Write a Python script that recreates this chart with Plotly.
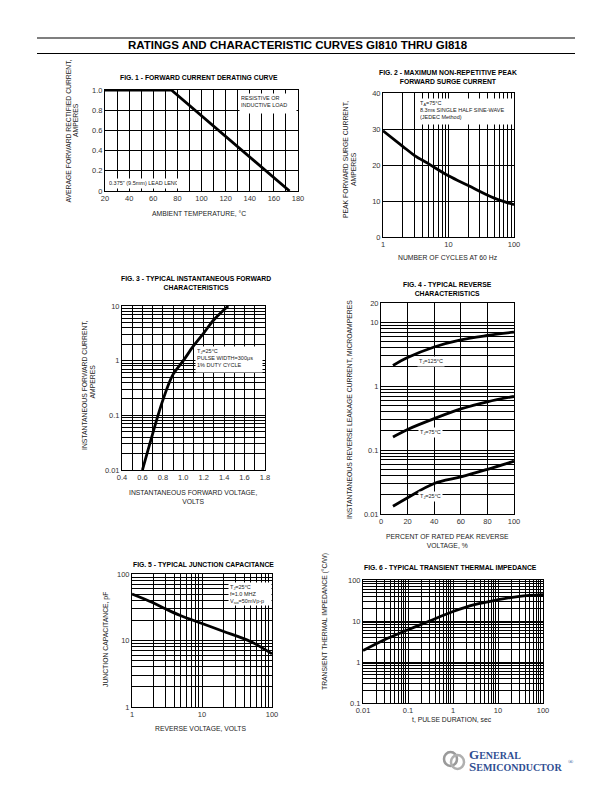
import plotly.graph_objects as go
import math

W, H = 612, 792

# ---------------- data ----------------
fig1_temp = [20, 75, 173]
fig1_current = [1.0, 1.0, 0.0]

fig2_cycles = [1, 2, 3, 5, 10, 20, 50, 100]
fig2_current = [29.5, 25.2, 22.7, 20.3, 17, 14.3, 10.8, 9]

fig3_volts = [0.6, 0.7, 0.8, 0.9, 1.0, 1.1, 1.2, 1.3, 1.44]
fig3_amps = [0.01, 0.046, 0.19, 0.56, 1.0, 1.86, 3.2, 5.6, 10]

fig4_pct = [9, 20, 40, 60, 80, 100]
fig4_125 = [2.1, 2.8, 4.1, 5.3, 6.2, 7.0]
fig4_75 = [0.16, 0.21, 0.31, 0.44, 0.57, 0.69]
fig4_25 = [0.0132, 0.018, 0.030, 0.038, 0.050, 0.067]

fig5_volts = [1, 2, 3, 5, 10, 20, 50, 100]
fig5_pf = [50, 37, 30, 23.5, 18, 13.8, 9.6, 6.3]

fig6_t = [0.01, 0.03, 0.1, 0.3, 1, 3, 10, 30, 100]
fig6_z = [1.9, 3.5, 6.1, 10, 17, 25, 33, 40, 44]

# tick values / labels
fig1_xticks = list(range(20, 181, 10))
fig1_xlabels = [str(v) if v % 20 == 0 else "" for v in fig1_xticks]
fig1_yticks = [0, 0.2, 0.4, 0.6, 0.8, 1.0]
fig1_ylabels = ["0", "0.2", "0.4", "0.6", "0.8", "1.0"]

fig2_yticks = [0, 10, 20, 30, 40]
fig2_ylabels = ["0", "10", "20", "30", "40"]

fig3_xticks = [round(0.4 + 0.1 * i, 1) for i in range(15)]
fig3_xlabels = [f"{v:.1f}" if round(v * 10) % 2 == 0 else "" for v in fig3_xticks]

fig4_xticks = [0, 20, 40, 60, 80, 100]
fig4_xlabels = ["0", "20", "40", "60", "80", "100"]


def log_ticks(lo_exp, hi_exp, labels):
    vals, txt = [], []
    for e in range(lo_exp, hi_exp):
        for m in range(1, 10):
            v = m * 10 ** e
            vals.append(v)
            txt.append(labels.get(v, ""))
    v = 10 ** hi_exp
    vals.append(v)
    txt.append(labels.get(v, ""))
    return vals, txt


FONT = "Liberation Sans, Arial, sans-serif"
TICK_FONT = dict(family=FONT, size=7.5, color="#333")


def dom_x(a, b):
    return [a / W, b / W]


def dom_y(top, bottom):
    return [1 - bottom / H, 1 - top / H]


def axis(domain, rng, anchor, typ="linear", tickvals=None, ticktext=None):
    d = dict(domain=domain, range=rng, type=typ, anchor=anchor, automargin=False,
             showgrid=True, gridcolor="black", gridwidth=1,
             showline=True, linecolor="black", linewidth=1, mirror=True,
             zeroline=False, ticks="", tickfont=TICK_FONT,
             fixedrange=True)
    if tickvals is not None:
        d.update(tickmode="array", tickvals=tickvals, ticktext=ticktext)
    return d


fig = go.Figure()
line = dict(color="black", width=2.8)

fig.add_trace(go.Scatter(x=fig1_temp, y=fig1_current, mode="lines", line=line, xaxis="x", yaxis="y"))
fig.add_trace(go.Scatter(x=fig2_cycles, y=fig2_current, mode="lines", line=dict(line, shape="spline"), xaxis="x2", yaxis="y2"))
fig.add_trace(go.Scatter(x=fig3_volts, y=fig3_amps, mode="lines", line=dict(line, shape="spline"), xaxis="x3", yaxis="y3"))
for ys in (fig4_125, fig4_75, fig4_25):
    fig.add_trace(go.Scatter(x=fig4_pct, y=ys, mode="lines", line=dict(line, shape="spline"), xaxis="x4", yaxis="y4"))
fig.add_trace(go.Scatter(x=fig5_volts, y=fig5_pf, mode="lines", line=dict(line, shape="spline"), xaxis="x5", yaxis="y5"))
fig.add_trace(go.Scatter(x=fig6_t, y=fig6_z, mode="lines", line=dict(line, shape="spline"), xaxis="x6", yaxis="y6"))

f2x_v, f2x_t = log_ticks(0, 2, {1: "1", 10: "10", 100: "100"})
f3y_v, f3y_t = log_ticks(-2, 1, {0.01: "0.01", 0.1: "0.1", 1: "1", 10: "10"})
f4y_v, f4y_t = log_ticks(-2, 1, {0.01: "0.01", 0.1: "0.1", 1: "1", 10: "10"})
f4y_v.append(20); f4y_t.append("20")
f5_v, f5_t = log_ticks(0, 2, {1: "1", 10: "10", 100: "100"})
f6x_v, f6x_t = log_ticks(-2, 2, {0.01: "0.01", 0.1: "0.1", 1: "1", 10: "10", 100: "100"})
f6y_v, f6y_t = log_ticks(-1, 2, {0.1: "0.1", 1: "1", 10: "10", 100: "100"})

fig.update_layout(
    width=W, height=H, autosize=False, margin=dict(l=0, r=0, t=0, b=0, pad=0),
    paper_bgcolor="white", plot_bgcolor="white", showlegend=False,
    xaxis=axis(dom_x(105, 298), [20, 180], "y", tickvals=fig1_xticks, ticktext=fig1_xlabels),
    yaxis=axis(dom_y(90, 191), [0, 1.0], "x", tickvals=fig1_yticks, ticktext=fig1_ylabels),
    xaxis2=axis(dom_x(383, 514), [0, 2], "y2", "log", f2x_v, f2x_t),
    yaxis2=axis(dom_y(93, 237), [0, 40], "x2", tickvals=fig2_yticks, ticktext=fig2_ylabels),
    xaxis3=axis(dom_x(122, 265), [0.4, 1.8], "y3", tickvals=fig3_xticks, ticktext=fig3_xlabels),
    yaxis3=axis(dom_y(306, 470), [-2, 1], "x3", "log", f3y_v, f3y_t),
    xaxis4=axis(dom_x(381, 514), [0, 100], "y4", tickvals=fig4_xticks, ticktext=fig4_xlabels),
    yaxis4=axis(dom_y(303, 514), [-2, math.log10(20)], "x4", "log", f4y_v, f4y_t),
    xaxis5=axis(dom_x(132, 272), [0, 2], "y5", "log", f5_v, f5_t),
    yaxis5=axis(dom_y(574, 707), [0, 2], "x5", "log", f5_v, f5_t),
    xaxis6=axis(dom_x(363, 543), [-2, 2], "y6", "log", f6x_v, f6x_t),
    yaxis6=axis(dom_y(580, 703), [-1, 2], "x6", "log", f6y_v, f6y_t),
)

anns = []


def ann(text, x, y, size, bold=False, angle=0, xa="center", ya="middle", color="#222", **kw):
    if bold:
        text = "<b>" + text + "</b>"
    d = dict(text=text, x=x / W, y=1 - y / H, xref="paper", yref="paper", showarrow=False,
             font=dict(family=FONT, size=size, color=color), textangle=angle,
             xanchor=xa, yanchor=ya)
    d.update(kw)
    anns.append(d)


# main title
ann("RATINGS AND CHARACTERISTIC CURVES GI810 THRU GI818", 298, 45.5, 11.5, bold=True, color="black")

# figure titles
TS = 6.8
ann("FIG. 1 - FORWARD CURRENT DERATING CURVE", 199, 77.5, TS, bold=True, color="black")
ann("FIG. 2 - MAXIMUM NON-REPETITIVE PEAK<br>FORWARD SURGE CURRENT", 448, 77, TS, bold=True, color="black")
ann("FIG. 3 - TYPICAL INSTANTANEOUS FORWARD<br>CHARACTERISTICS", 196, 283, TS, bold=True, color="black")
ann("FIG. 4 - TYPICAL REVERSE<br>CHARACTERISTICS", 447, 289, TS, bold=True, color="black")
ann("FIG. 5 - TYPICAL JUNCTION CAPACITANCE", 203, 564, TS, bold=True, color="black")
ann("FIG. 6 - TYPICAL TRANSIENT THERMAL IMPEDANCE", 450, 567, TS, bold=True, color="black")

# axis titles
AS = 6.8
ann("AMBIENT TEMPERATURE, °C", 199, 213, AS)
ann("AVERAGE FORWARD RECTIFIED CURRENT,", 67.5, 131, AS, angle=-90)
ann("AMPERES", 76, 120, AS, angle=-90)
ann("NUMBER OF CYCLES AT 60 Hz", 448, 258, AS)
ann("PEAK FORWARD SURGE CURRENT,", 346, 160, AS, angle=-90)
ann("AMPERES", 354, 169, AS, angle=-90)
ann("INSTANTANEOUS FORWARD VOLTAGE,<br>VOLTS", 193, 496.5, AS)
ann("INSTANTANEOUS FORWARD CURRENT,", 84, 385, AS, angle=-90)
ann("AMPERES", 92.5, 382, AS, angle=-90)
ann("PERCENT OF RATED PEAK REVERSE<br>VOLTAGE, %", 448, 540.5, AS)
ann("INSTANTANEOUS REVERSE LEAKAGE CURRENT, MICROAMPERES", 350, 410, AS, angle=-90)
ann("REVERSE VOLTAGE, VOLTS", 200, 728, AS)
ann("JUNCTION CAPACITANCE, pF", 106, 640, AS, angle=-90)
ann("t, PULSE DURATION, sec", 452, 719, AS)
ann("TRANSIENT THERMAL IMPEDANCE (°C/W)", 325, 622, AS, angle=-90)

# in-plot notes (white boxes)
NS = 5.5
box = dict(bgcolor="white", align="left", valign="top", borderpad=1)
ann("RESISTIVE OR<br>INDUCTIVE LOAD", 239, 93, NS, xa="left", ya="top", width=54, height=17, **box)
ann("0.375\" (9.5mm) LEAD LENGTH", 107, 178, NS, xa="left", ya="top", width=68, height=7, **box)
ann("T<sub>A</sub>=75°C<br>8.3ms SINGLE HALF SINE-WAVE<br>(JEDEC Method)", 418, 98, NS, xa="left", ya="top", width=92, height=23, **box)
ann("T<sub>J</sub>=25°C<br>PULSE WIDTH=300μs<br>1% DUTY CYCLE", 195, 346, NS, xa="left", ya="top", width=64, height=23, **box)
ann("T<sub>J</sub>=25°C<br>f=1.0 MHZ<br>V<sub>sig</sub>=50mVp-p", 228, 582, NS, xa="left", ya="top", width=40, height=20, **box)

# fig 4 curve labels (data coords)
for txt, yv in (("T<sub>J</sub>=125°C", 2.46), ("T<sub>J</sub>=75°C", 0.19), ("T<sub>J</sub>=25°C", 0.0185)):
    anns.append(dict(text=txt, x=37.5, y=math.log10(yv), xref="x4", yref="y4", showarrow=False,
                     font=dict(family=FONT, size=NS, color="#222"), bgcolor="white", borderpad=1))

# logo text
BLUE = "#2f4e92"
SERIF = "Liberation Serif, Times New Roman, serif"
anns.append(dict(text="<b>G<span style='font-size:10px'>ENERAL</span></b>", x=467 / W, y=1 - 754.5 / H,
                 xref="paper", yref="paper", showarrow=False, xanchor="left", yanchor="middle",
                 font=dict(family=SERIF, size=13, color=BLUE)))
anns.append(dict(text="<b>S<span style='font-size:10px'>EMICONDUCTOR</span></b>", x=467 / W, y=1 - 766 / H,
                 xref="paper", yref="paper", showarrow=False, xanchor="left", yanchor="middle",
                 font=dict(family=SERIF, size=13, color=BLUE)))
anns.append(dict(text="®", x=571 / W, y=1 - 762 / H,
                 xref="paper", yref="paper", showarrow=False, xanchor="center", yanchor="middle",
                 font=dict(family=SERIF, size=7, color=BLUE)))

fig.update_layout(annotations=anns)

# header rules and logo emblem
shapes = [
    dict(type="line", xref="paper", yref="paper", x0=37 / W, x1=575 / W, y0=1 - 38 / H, y1=1 - 38 / H,
         line=dict(color="black", width=1.2)),
    dict(type="line", xref="paper", yref="paper", x0=37 / W, x1=575 / W, y0=1 - 53.5 / H, y1=1 - 53.5 / H,
         line=dict(color="black", width=1.2)),
    dict(type="circle", xref="paper", yref="paper", x0=444 / W, x1=457 / W, y0=1 - 766 / H, y1=1 - 752 / H,
         line=dict(color="#9a9a9a", width=2.5)),
    dict(type="circle", xref="paper", yref="paper", x0=451 / W, x1=464 / W, y0=1 - 769 / H, y1=1 - 755 / H,
         line=dict(color="#b0b0b0", width=2.5)),
]
fig.update_layout(shapes=shapes)

fig.write_html(
    "out.html",
    config={"responsive": False, "displayModeBar": False},
    post_script="document.body.style.margin='0';document.body.style.overflow='hidden';",
)
